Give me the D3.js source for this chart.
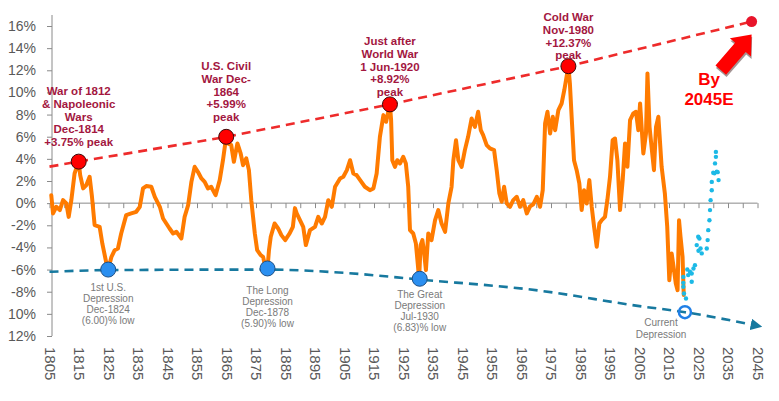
<!DOCTYPE html>
<html><head><meta charset="utf-8">
<script src="https://cdn.jsdelivr.net/npm/d3@7"></script>
<style>html,body{margin:0;padding:0;background:#fff;} svg{display:block;font-family:"Liberation Sans",Arial,sans-serif;}</style>
</head><body><svg id="c" width="779" height="401"></svg>
<script>
// ---------- DATA ----------
const oscillator = [
[1805.6,0.72],[1806.2,-0.93],[1807.3,-0.33],[1808.5,-0.63],[1809.6,0.27],[1810.7,-0.03],[1811.5,-1.24],[1812.4,0.27],[1813.5,2.68],[1814.9,3.75],
[1815.4,2.53],[1816.4,1.33],[1817.5,1.63],[1818.6,2.38],[1819.4,0.57],[1820.3,-1.99],[1822.0,-2.14],[1822.9,-3.64],[1824.3,-5.45],[1824.9,-6.0],
[1826.0,-4.85],[1827.1,-4.25],[1828.2,-4.1],[1829.3,-2.74],[1831.0,-1.08],[1832.7,-0.93],[1834.4,-0.78],[1835.6,-0.33],[1836.7,1.33],[1837.8,1.54],
[1839.5,1.48],[1840.7,0.57],[1842.4,-0.33],[1843.5,-1.39],[1844.6,-1.84],[1845.7,-2.29],[1846.9,-2.74],[1848.0,-2.59],[1849.7,-3.19],[1850.8,-1.24],
[1852.0,-0.18],[1853.1,1.92],[1854.2,3.28],[1855.3,2.83],[1856.5,2.23],[1857.6,1.92],[1858.7,1.33],[1859.8,1.48],[1861.3,0.72],[1862.7,2.08],
[1863.8,3.88],[1864.9,5.99],[1865.5,5.39],[1866.6,5.24],[1867.5,3.73],[1868.7,5.39],[1869.8,4.49],[1870.6,3.43],[1871.7,4.04],[1872.6,2.98],
[1873.4,0.27],[1874.6,-2.74],[1875.4,-4.25],[1876.6,-4.7],[1877.4,-4.85],[1877.9,-5.45],[1878.9,-5.9],[1879.4,-4.25],[1880.0,-3.04],[1881.3,-1.84],
[1882.5,-2.29],[1883.6,-2.89],[1884.9,-3.34],[1886.4,-2.74],[1887.5,-2.14],[1888.2,-0.45],[1888.8,-0.93],[1889.9,-1.54],[1891.0,-2.14],[1891.9,-3.79],
[1893.3,-2.44],[1895.0,-2.14],[1896.1,-1.24],[1897.3,-1.84],[1898.4,-1.24],[1899.5,0.27],[1900.7,-0.33],[1901.8,1.48],[1903.5,2.23],[1904.6,2.38],
[1905.8,2.98],[1906.9,3.88],[1908.0,2.68],[1909.1,2.53],[1910.3,2.08],[1911.9,1.48],[1913.6,1.17],[1914.8,1.33],[1915.9,2.68],[1917.0,5.99],
[1918.2,7.95],[1919.1,7.35],[1920.4,8.92],[1920.8,7.5],[1921.2,3.88],[1922.1,3.28],[1922.9,3.88],[1923.8,3.58],[1924.9,4.18],[1925.8,3.58],
[1926.6,1.48],[1927.2,-2.44],[1928.3,-2.74],[1929.2,-3.64],[1930.3,-6.83],[1930.8,-3.79],[1931.4,-3.34],[1931.9,-4.25],[1932.6,-6.05],[1933.4,-2.74],
[1934.5,-3.34],[1935.7,-1.54],[1936.8,-0.63],[1937.9,-1.84],[1939.1,-2.59],[1940.2,-0.03],[1941.3,1.48],[1941.9,3.88],[1942.8,5.69],[1943.6,3.88],
[1944.7,3.28],[1945.8,4.79],[1946.9,5.99],[1948.1,7.65],[1949.2,6.89],[1950.3,8.25],[1951.2,6.59],[1952.0,6.14],[1953.2,5.24],[1954.3,4.94],
[1955.7,4.79],[1956.6,2.98],[1957.5,0.87],[1958.3,0.12],[1959.1,1.48],[1960.0,-0.03],[1961.1,-0.33],[1962.2,0.27],[1963.4,0.57],[1964.5,-0.33],
[1965.6,0.27],[1966.8,-0.93],[1967.9,-0.3],[1969.0,-0.1],[1970.2,0.57],[1971.3,-0.33],[1972.2,1.17],[1973.0,7.2],[1973.8,8.25],[1974.7,6.29],
[1975.6,7.8],[1976.4,6.59],[1977.5,8.4],[1978.6,9.0],[1979.5,10.2],[1980.9,12.37],[1981.4,10.81],[1982.0,7.8],[1982.8,3.88],[1983.7,2.98],
[1984.6,1.78],[1985.4,-0.63],[1986.2,1.17],[1987.1,-0.03],[1988.0,2.08],[1988.8,-0.33],[1989.6,-2.14],[1990.5,-3.94],[1991.4,-1.84],[1992.2,-1.54],
[1993.3,-1.24],[1994.1,0.27],[1995.0,2.38],[1995.9,5.69],[1996.7,5.84],[1997.5,3.88],[1998.4,-0.63],[1999.3,2.08],[2000.1,5.39],[2000.9,3.28],
[2001.8,7.5],[2002.9,8.1],[2003.8,8.25],[2004.6,6.59],[2005.2,9.0],[2006.3,4.49],[2007.2,6.29],[2007.7,11.72],[2008.4,6.89],[2009.2,4.79],
[2009.9,2.98],[2010.6,6.89],[2011.4,7.8],[2012.5,3.28],[2013.6,0.87],[2014.4,-2.14],[2015.1,-6.96],[2015.9,-4.55],[2016.7,-6.05],[2017.3,-7.26],
[2017.9,-7.86],[2018.4,-1.54],[2018.9,-3.04],[2019.6,-4.85],[2020.0,-8.3]
];
const projection = [
[2019.85,-6.66],[2019.85,-7.2],[2019.85,-7.56],[2020.08,-8.16],[2020.76,-8.61],[2021.2,-6.0],[2021.5,-6.5],[2022.1,-6.2],[2022.7,-7.1],[2022.7,-6.35],
[2023.3,-5.9],[2023.8,-5.6],[2024.4,-3.79],[2024.9,-3.04],[2025.3,-3.19],[2025.0,-4.3],[2025.7,-4.09],[2026.1,-4.54],[2027.8,-4.09],[2028.1,-3.34],
[2028.3,-2.44],[2028.7,-1.54],[2028.9,-0.63],[2029.1,0.27],[2029.5,1.17],[2029.5,1.92],[2030.0,2.74],[2030.6,3.59],[2030.9,4.18],[2030.9,4.63],
[2031.2,2.83],[2031.8,2.08],[2030.4,2.7],[2031.5,2.8]
];
const peakTrend = [[1805,3.3],[1814.9,3.75],[1864.9,5.99],[1920.4,8.92],[1980.9,12.37],[2043,16.4]];
const lowTrend = [[1805,-6.2],[1824.9,-6.05],[1878.9,-6.0],[1905,-6.3],[1930.5,-6.9],[1971,-7.9],[2005,-9.3],[2020.4,-9.85],[2043.5,-11.0]];
const peakYears = [1814.9, 1864.9, 1920.4, 1980.9];
const peakValues = [3.75, 5.99, 8.92, 12.37];
const peakLabels = [
  ["War of 1812","& Napoleonic","Wars","Dec-1814","+3.75% peak"],
  ["U.S. Civil","War Dec-","1864","+5.99%","peak"],
  ["Just after","World War","1 Jun-1920","+8.92%","peak"],
  ["Cold War","Nov-1980","+12.37%","peak"]
];
const lowYears = [1824.9, 1878.9, 1930.5];
const lowValues = [-6.0, -5.9, -6.83];
const lowLabels = [
  ["1st U.S.","Depression","Dec-1824","(6.00)% low"],
  ["The Long","Depression","Dec-1878","(5.90)% low"],
  ["The Great","Depression","Jul-1930","(6.83)% low"]
];
const currentPoint = [2020.4, -9.85];
const currentLabel = ["Current","Depression"];
const targetPoint = [2043, 16.4];
const targetLabel = ["By","2045E"];
const yTicks = [16,14,12,10,8,6,4,2,0,-2,-4,-6,-8,-10,-12];
const yTickLabels = ["16%","14%","12%","10%","8%","6%","4%","2%","0%","-2%","-4%","-6%","-8%","10%","12%"];
const xLabelYears = d3.range(1805, 2046, 10);
const xMinorYears = d3.range(1805, 2046, 5);

// ---------- CHART ----------
const svg = d3.select("#c");
const x = d3.scaleLinear().domain([1805, 2045]).range([49.5, 757.5]);
const y = d3.scaleLinear().domain([-12, 16]).range([336, 26]);
const axisColor = "#8a8a8a", labelGray = "#595959";

// Y axis
const yAxis = svg.append("g").attr("transform", "translate(52,0)")
  .call(d3.axisLeft(y).tickValues(yTicks).tickFormat((d,i)=>yTickLabels[i]).tickSize(5).tickSizeOuter(0).tickPadding(11));
yAxis.select(".domain").attr("d", "M0,15V" + y(-12)).attr("stroke", axisColor);
yAxis.selectAll(".tick line").attr("stroke", axisColor);
yAxis.selectAll("text").attr("fill", labelGray).style("font-size", "14px").style("font-family", "Liberation Sans, Arial, sans-serif");

// X axis at zero
const xAxis = svg.append("g").attr("transform", `translate(0,${y(0)})`)
  .call(d3.axisBottom(x).tickValues(xMinorYears).tickFormat("").tickSize(5).tickSizeOuter(0));
xAxis.select(".domain").attr("d", `M52,0H${x(2045)}`).attr("stroke", axisColor);
xAxis.selectAll(".tick line").attr("stroke", axisColor);

// X labels at bottom, rotated
const xLab = svg.append("g").attr("transform", "translate(0,347)")
  .call(d3.axisBottom(x).tickValues(xLabelYears).tickFormat(d3.format("d")).tickSize(0).tickPadding(0));
xLab.select(".domain").remove();
xLab.selectAll("text").attr("fill", labelGray).style("font-size", "15px")
  .style("font-family", "Liberation Sans, Arial, sans-serif")
  .attr("text-anchor", "start").attr("dy", "0.35em").attr("y", 0)
  .attr("transform", "rotate(90)");

// Red peak trend line
const trendLine = d3.line().x(d=>x(d[0])).y(d=>y(d[1]));
svg.append("path").datum(peakTrend).attr("d", trendLine)
  .attr("fill","none").attr("stroke","#ee2b2b").attr("stroke-width",2.6).attr("stroke-dasharray","9,6");

// Blue low trend line
const lowLine = d3.line().x(d=>x(d[0])).y(d=>y(d[1])).curve(d3.curveMonotoneX);
svg.append("defs").append("marker").attr("id","ah").attr("viewBox","0 0 10 10")
  .attr("refX",2).attr("refY",5).attr("markerWidth",4.5).attr("markerHeight",4.5).attr("orient","auto")
  .append("path").attr("d","M0,0L10,5L0,10Z").attr("fill","#17799f");
svg.append("path").datum(lowTrend).attr("d", lowLine)
  .attr("fill","none").attr("stroke","#17799f").attr("stroke-width",2.6).attr("stroke-dasharray","9,6")
  .attr("marker-end","url(#ah)");

// Orange oscillator
svg.append("path").datum(oscillator).attr("d", d3.line().x(d=>x(d[0])).y(d=>y(d[1])))
  .attr("fill","none").attr("stroke","#ff7b00").attr("stroke-width",4).attr("stroke-linejoin","round").attr("stroke-linecap","round");

// Projection dots
svg.append("g").selectAll("circle").data(projection).join("circle")
  .attr("cx", d=>x(d[0])).attr("cy", d=>y(d[1])).attr("r", 2.2).attr("fill", "#1cb9e6");

// Target end dot
svg.append("circle").attr("cx", x(targetPoint[0])).attr("cy", y(targetPoint[1])).attr("r", 5.5).attr("fill", "#e8142a");

// Big red arrow
const arrowPath = "M0,0L17,-14L17,-7L47,-7L47,7L17,7L17,14Z";
const ag = svg.append("g").attr("transform", `translate(${x(targetPoint[0])},${y(targetPoint[1])+13}) rotate(131)`);
ag.append("path").attr("d", arrowPath).attr("fill", "#5a3a3a").attr("opacity", 0.55).attr("transform", "translate(1.5,-2)");
ag.append("path").attr("d", arrowPath).attr("fill", "#ff0000");

// By 2045E
svg.append("g").selectAll("text").data(targetLabel).join("text")
  .attr("x", 709).attr("y", (d,i)=>85 + i*20).attr("text-anchor","middle")
  .attr("fill","#ff0000").style("font-weight","bold").style("font-size","17px").text(d=>d);

// Peak dots & labels
const peakLabelTop = [95, 70, 45, 21];
const peakG = svg.append("g");
peakYears.forEach((yr,i)=>{
  peakG.append("circle").attr("cx", x(yr)).attr("cy", y(peakValues[i])).attr("r", 7.5)
    .attr("fill","#ff0000").attr("stroke","#3b0a0a").attr("stroke-width",1);
  peakG.append("g").selectAll("text").data(peakLabels[i]).join("text")
    .attr("x", x(yr)).attr("y", (d,j)=>peakLabelTop[i] + j*12.8).attr("text-anchor","middle")
    .attr("fill","#a3173f").style("font-weight","bold").style("font-size","11.5px").text(d=>d);
});

// Low dots & labels
const lowLabelTop = [290.5, 293.5, 297.5];
const lowG = svg.append("g");
lowYears.forEach((yr,i)=>{
  lowG.append("circle").attr("cx", x(yr)).attr("cy", y(lowValues[i])).attr("r", 7.5)
    .attr("fill","#2b8ff0").attr("stroke","#1d4f86").attr("stroke-width",1);
  lowG.append("g").selectAll("text").data(lowLabels[i]).join("text")
    .attr("x", x(yr)).attr("y", (d,j)=>lowLabelTop[i] + j*11.3).attr("text-anchor","middle")
    .attr("fill","#7a7a7a").style("font-size","10px").text(d=>d);
});

// Current depression ring
svg.append("circle").attr("cx", x(currentPoint[0])).attr("cy", y(currentPoint[1])).attr("r", 6)
  .attr("fill","none").attr("stroke","#1f7fe6").attr("stroke-width",2.5);
svg.append("g").selectAll("text").data(currentLabel).join("text")
  .attr("x", 661).attr("y", (d,j)=>326 + j*11.5).attr("text-anchor","middle")
  .attr("fill","#7a7a7a").style("font-size","10px").text(d=>d);
</script></body></html>
